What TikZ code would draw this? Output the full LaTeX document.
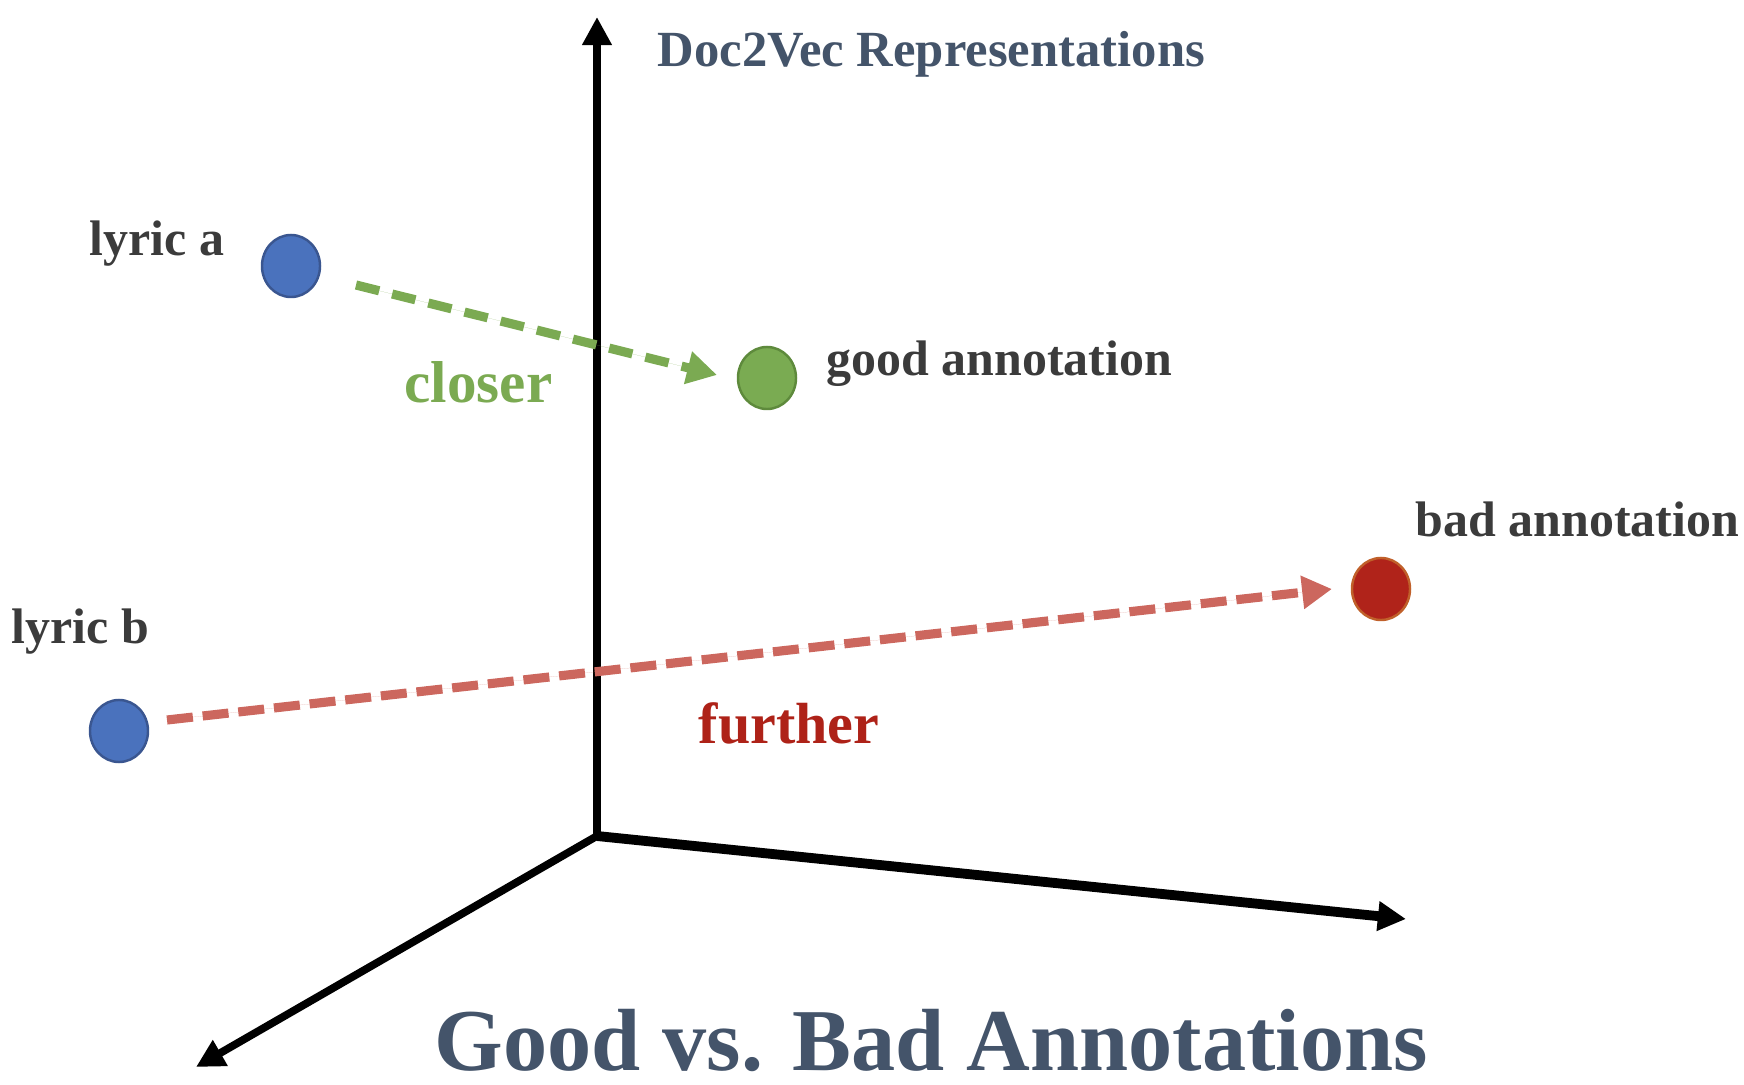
\documentclass[tikz,border=0pt]{standalone}
\usepackage{fontspec}
\setmainfont{Liberation Serif}
\usetikzlibrary{arrows.meta,shapes.geometric,calc}
\definecolor{labelgray}{HTML}{3B3B3B}
\definecolor{slate}{HTML}{44546A}
\definecolor{dotblue}{HTML}{4A72BD}
\definecolor{dotblueline}{HTML}{3A5690}
\definecolor{dotgreen}{HTML}{7AAB52}
\definecolor{dotgreenline}{HTML}{5E8A3C}
\definecolor{dotred}{HTML}{B0231A}
\definecolor{dotredline}{HTML}{C0602A}
\definecolor{arrowgreen}{HTML}{7BAA52}
\definecolor{arrowred}{HTML}{CC675E}
\definecolor{textred}{HTML}{AE2218}
\begin{document}
\begin{tikzpicture}[x=0.01cm,y=-0.01cm,
  dot/.style={ellipse,minimum width=0.58cm,minimum height=0.62cm,inner sep=0pt,line width=0.7pt},
  lbl/.style={anchor=base west,inner sep=0pt,text=labelgray,font=\fontsize{14.2}{16}\selectfont\bfseries},
  axis/.style={line width=2.2pt,-{Triangle[length=8pt,width=8pt]}},
  flow/.style={line width=2.6pt,-{Triangle[length=8.5pt,width=9pt]}}]
\useasboundingbox (0,0) rectangle (1744,1085);

% axes
\coordinate (O) at (597,836);
\coordinate (Ytop) at (597,17);
\coordinate (Xend) at (1406,919);
\coordinate (Zend) at (196,1067);
\draw[axis] (O) -- (Ytop);
\draw[axis,line width=2.8pt] (O) -- (Xend);
\draw[axis] (O) -- (Zend);

% points
\node[dot,fill=dotblue,draw=dotblueline] (la) at (291,266) {};
\node[dot,fill=dotgreen,draw=dotgreenline] (ga) at (767,378) {};
\node[dot,fill=dotred,draw=dotredline] (ba) at (1381,589) {};
\node[dot,fill=dotblue,draw=dotblueline] (lb) at (119,731) {};

% distance arrows
\draw[flow,draw=arrowgreen,fill=arrowgreen,dash pattern=on 6.8pt off 3.8pt]
  ($(la)+(65,19)$) -- ($(ga)+(-50,-3)$);
\draw[flow,draw=arrowred,fill=arrowred,dash pattern=on 7.4pt off 2.8pt]
  ($(lb)+(48,-11)$) -- ($(ba)+(-49,0)$);

% labels
\node[lbl] (tla) at (89,256) {lyric a};
\node[lbl] (tga) at (826,376) {good annotation};
\node[lbl] (tba) at (1415,537) {bad annotation};
\node[lbl] (tlb) at (11,643) {lyric b};
\node[lbl,text=arrowgreen,font=\fontsize{16.8}{18}\selectfont\bfseries] (tcl) at (404,403) {closer};
\node[lbl,text=textred,font=\fontsize{16.5}{18}\selectfont\bfseries] (tfu) at (698,743) {further};
\node[lbl,text=slate,font=\fontsize{14.4}{16}\selectfont\bfseries] (tdoc) at (657,67) {Doc2Vec Representations};
\node[lbl,text=slate,font=\fontsize{25.1}{28}\selectfont\bfseries] (title) at (434,1070) {Good vs. Bad Annotations};
\end{tikzpicture}
\end{document}
